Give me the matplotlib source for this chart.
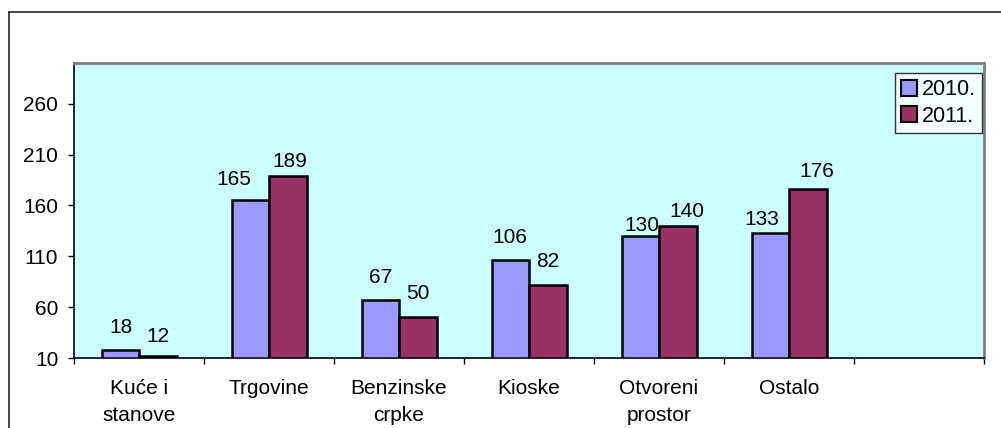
import matplotlib
matplotlib.use("Agg")
import matplotlib.pyplot as plt
from matplotlib.patches import Patch
from matplotlib.lines import Line2D
import numpy as np

plt.rcParams['font.family'] = ['Liberation Sans', 'DejaVu Sans']

categories = ["Kuće i\nstanove", "Trgovine", "Benzinske\ncrpke", "Kioske",
              "Otvoreni\nprostor", "Ostalo", ""]
series_names = ["2010.", "2011."]
values_2010 = [18, 165, 67, 106, 130, 133]
values_2011 = [12, 189, 50, 82, 140, 176]
yticks = [10, 60, 110, 160, 210, 260]

# label offsets in pixels (dx, gap above bar top) - style only
off_2010 = [(1, 17), (-16, 15), (0, 17), (0, 17), (2, 5), (-8, 8)]
off_2011 = [(0, 14), (2, 9), (0, 18), (0, 18), (9, 9), (9, 12)]

W, H = 1001, 428
fig = plt.figure(figsize=(W / 100, H / 100), dpi=100)
fig.patch.set_facecolor("white")

L, R, T, B = 74, 984, 63, 358
ax = fig.add_axes([L / W, 1 - B / H, (R - L) / W, (B - T) / H])
ax.set_facecolor("#CCFFFF")

c2010 = "#9999FF"
c2011 = "#993366"
bw = 37.5 / 130.0
x = np.arange(len(values_2010))
base = 10
ax.bar(x - bw / 2, np.array(values_2010) - base, bw, bottom=base, color=c2010,
       edgecolor="black", linewidth=1.8, zorder=3)
ax.bar(x + bw / 2, np.array(values_2011) - base, bw, bottom=base, color=c2011,
       edgecolor="black", linewidth=1.8, zorder=3)

ax.set_xlim(-0.5, len(categories) - 0.5)
ax.set_ylim(10, 300)

ppx = 72 / 100.0  # points per pixel
fs = 15
for i, v in enumerate(values_2010):
    dx, g = off_2010[i]
    ax.annotate(str(v), (x[i] - bw / 2, v), xytext=(dx * ppx, g * ppx),
                textcoords="offset points", ha="center", va="baseline",
                fontsize=fs, color="black", zorder=4)
for i, v in enumerate(values_2011):
    dx, g = off_2011[i]
    ax.annotate(str(v), (x[i] + bw / 2, v), xytext=(dx * ppx, g * ppx),
                textcoords="offset points", ha="center", va="baseline",
                fontsize=fs, color="black", zorder=4)

ax.set_yticks(yticks)
ax.set_yticklabels([str(t) for t in yticks], fontsize=fs)
ax.tick_params(axis="y", direction="out", length=4.3, width=1, pad=7, colors="black")

ax.set_xticks(np.arange(len(categories)))
ax.set_xticklabels(categories, fontsize=fs, linespacing=1.57)
ax.set_xticks(np.arange(len(categories) + 1) - 0.5, minor=True)
ax.tick_params(axis="x", which="major", length=0, pad=15)
ax.tick_params(axis="x", which="minor", direction="out", length=4.3, width=1, colors="black")

for s in ["left", "bottom"]:
    ax.spines[s].set_color("black")
    ax.spines[s].set_linewidth(1.2)
for s in ["top", "right"]:
    ax.spines[s].set_color("#808080")
    ax.spines[s].set_linewidth(2)

handles = [Patch(facecolor=c2010, edgecolor="black", linewidth=1.5),
           Patch(facecolor=c2011, edgecolor="black", linewidth=1.5)]
leg = ax.legend(handles, series_names, loc="upper right",
                bbox_to_anchor=((982 - L) / (R - L), (B - 73) / (B - T)),
                fontsize=15.5, frameon=True, fancybox=False, shadow=False,
                handlelength=0.75, handleheight=0.75, handletextpad=0.2,
                borderpad=0.3, labelspacing=0.25, borderaxespad=0)
leg.get_frame().set_edgecolor("black")
leg.get_frame().set_linewidth(1)
leg.get_frame().set_facecolor("white")
leg.set_zorder(5)

# outer chart frame (left and top edges visible)
fig.add_artist(Line2D([8.5 / W, 8.5 / W], [0, 1 - 12 / H], color="#222222", lw=1.2,
                      transform=fig.transFigure))
fig.add_artist(Line2D([8.5 / W, 1], [1 - 12 / H, 1 - 12 / H], color="#222222", lw=1.2,
                      transform=fig.transFigure))

fig.savefig("out.png", dpi=100)
